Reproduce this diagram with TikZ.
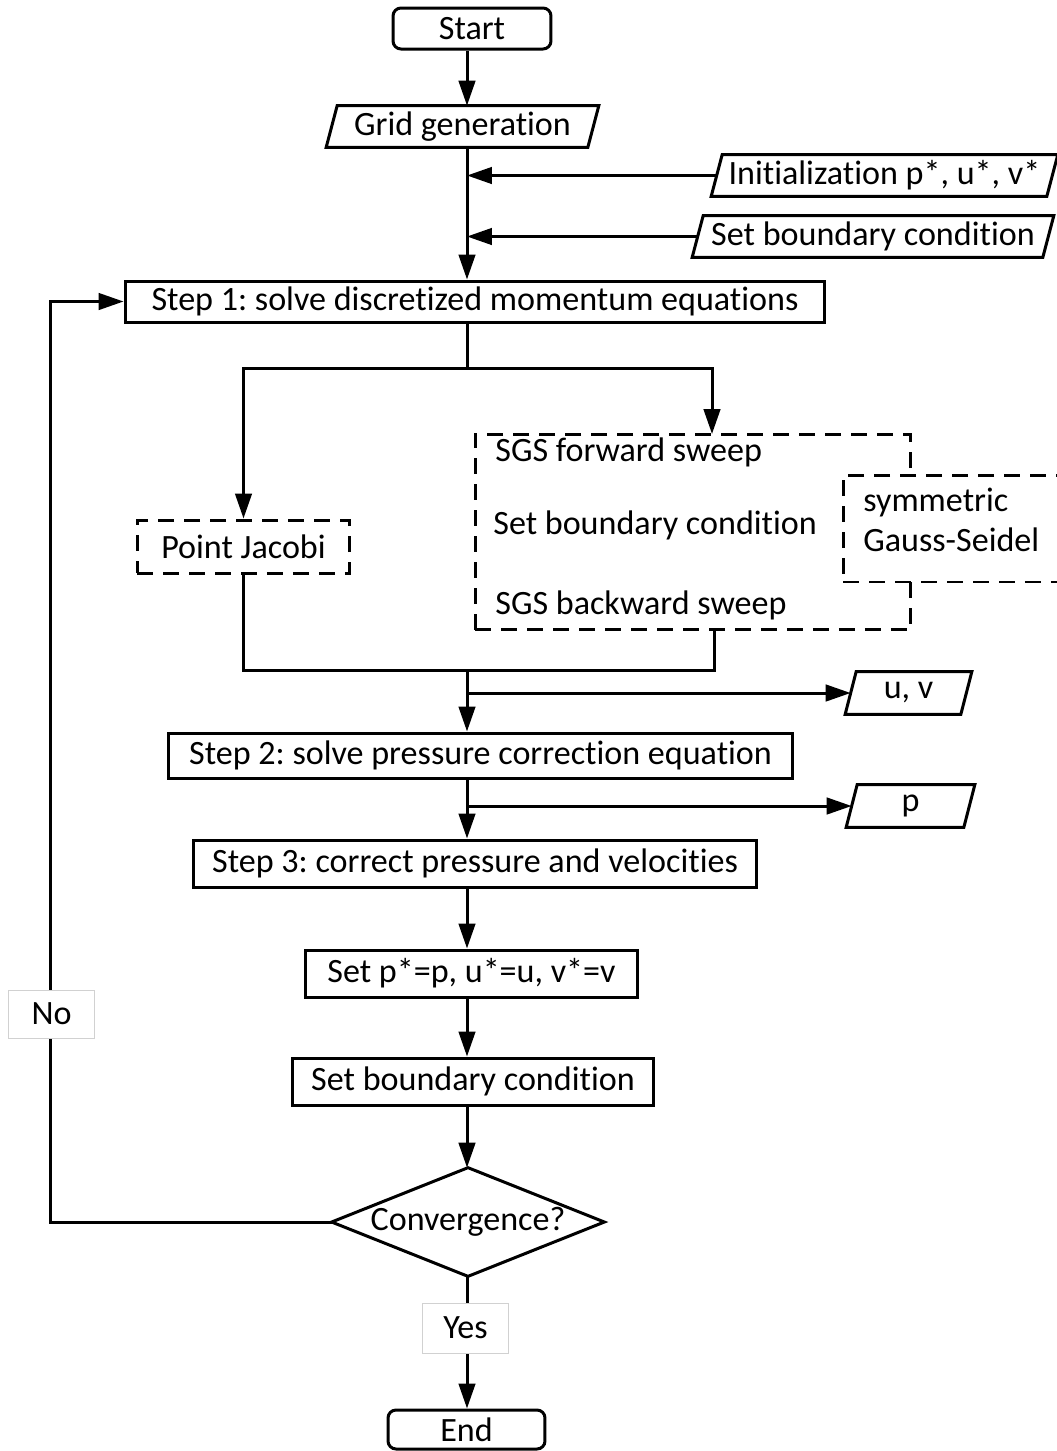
\documentclass[tikz,border=0pt]{standalone}
\usepackage{fontspec}
\setmainfont[Ligatures={NoCommon,NoContextual,NoRequired}]{Carlito}
\usetikzlibrary{arrows.meta}
\frenchspacing
\newcommand\ioshape[1]{\draw[ln] ([xshift=0.11cm]#1.north west) -- ([xshift=0.11cm]#1.north east) -- ([xshift=-0.11cm]#1.south east) -- ([xshift=-0.11cm]#1.south west) -- cycle;}
\begin{document}
\begin{tikzpicture}[x=0.02cm,y=-0.02cm,
  every node/.style={font=\fontsize{19.4pt}{23pt}\selectfont, inner sep=0pt},
  ln/.style={line width=0.06cm, line join=miter},
  arr/.style={ln, -{Triangle[length=0.5cm,width=0.33cm]}},
  proc/.style={draw, line width=0.06cm, rectangle, align=center},
  term/.style={proc, rounded corners=0.16cm},
  dbox/.style={draw, line width=0.06cm, dash pattern=on 0.32cm off 0.2cm},
  lbl/.style={draw=black!18, line width=0.02cm, fill=white}
]
\useasboundingbox (0,0) rectangle (1057,1451);
\coordinate (tx) at (467,0);
\coordinate (lx) at (50,0);

% nodes
\node[term, minimum width=3.16cm, minimum height=0.82cm] (start) at (472,28.5) {Start};
\node[minimum width=5.22cm, minimum height=0.82cm] (grid) at (462.5,126.5) {Grid generation};
\ioshape{grid}
\node[minimum width=6.7cm, minimum height=0.82cm] (init) at (884.5,175.5) {Initialization p*, u*, v*};
\ioshape{init}
\node[minimum width=7.0cm, minimum height=0.82cm] (sbc1) at (873,236.5) {Set boundary condition};
\ioshape{sbc1}
\node[proc, minimum width=14cm, minimum height=0.82cm] (step1) at (475,301.5) {Step 1: solve discretized momentum equations};

\node[dbox, minimum width=4.26cm, minimum height=1.06cm] (pj) at (243.5,546.5) {Point Jacobi};
\node[dbox, minimum width=8.72cm, minimum height=3.92cm] (sgs) at (693,532) {};
\node[anchor=west] (fw) at (495,452) {SGS forward sweep};
\node[anchor=west] (sbcm) at (493,525) {Set boundary condition};
\node[anchor=west] (bw) at (495,605) {SGS backward sweep};
\node[dbox, fill=white, minimum width=4.6cm, minimum height=2.14cm] (sym) at (958,528.5) {};
\node[anchor=west] (symt) at (863,503) {symmetric};
\node[anchor=west] (gs) at (863,540) {Gauss-Seidel};

\node[minimum width=2.3cm, minimum height=0.84cm] (uv) at (908.5,693) {u, v};
\ioshape{uv}
\node[proc, minimum width=12.5cm, minimum height=0.9cm] (step2) at (480.5,755.5) {Step 2: solve pressure correction equation};
\node[minimum width=2.34cm, minimum height=0.84cm] (p) at (910.5,806) {p};
\ioshape{p}
\node[proc, minimum width=11.28cm, minimum height=0.94cm] (step3) at (475,863.5) {Step 3: correct pressure and velocities};
\node[proc, minimum width=6.66cm, minimum height=0.94cm] (setp) at (471.5,973.5) {Set p*=p, u*=u, v*=v};
\node[proc, minimum width=7.24cm, minimum height=0.94cm] (sbc2) at (473,1081.5) {Set boundary condition};
\node[minimum width=5.44cm, minimum height=2.16cm] (conv) at (468,1222) {Convergence?};
\draw[ln] (conv.north) -- (conv.east) -- (conv.south) -- (conv.west) -- cycle;
\node[term, minimum width=3.14cm, minimum height=0.78cm] (end) at (466.5,1429.5) {End};

% connectors
\draw[arr] (start.south -| tx) -- (grid.north -| tx);
\draw[arr] (grid.south -| tx) -- (step1.north -| tx);
\draw[arr] (init.west) -- (init.west -| tx);
\draw[arr] (sbc1.west) -- (sbc1.west -| tx);

\coordinate (splitA) at (467,368);
\coordinate (sgsin) at (712,434);
\draw[ln] (step1.south -| tx) -- (splitA);
\draw[arr] (splitA) -| (pj.north);
\draw[arr] (splitA) -| (sgsin);

\coordinate (merge) at (467,670);
\coordinate (sgsout) at (714,630);
\draw[ln] (pj.south) |- (merge);
\draw[ln] (sgsout) |- (merge);
\draw[arr] (merge) -- (step2.north -| tx);
\draw[arr] (uv.west -| tx) -- (uv.west);

\draw[arr] (step2.south -| tx) -- (step3.north -| tx);
\draw[arr] (p.west -| tx) -- (p.west);

\draw[arr] (step3.south -| tx) -- (setp.north -| tx);
\draw[arr] (setp.south -| tx) -- (sbc2.north -| tx);
\draw[arr] (sbc2.south -| tx) -- (conv.north -| tx);
\draw[arr] (conv.south -| tx) -- (end.north -| tx);
\draw[arr] (conv.west) -| (lx |- step1.west) -- (step1.west);

\node[lbl, minimum width=1.74cm, minimum height=0.96cm] (no) at (51.5,1014) {No};
\node[lbl, minimum width=1.74cm, minimum height=1.0cm] (yes) at (465.5,1328) {Yes};
\end{tikzpicture}
\end{document}
